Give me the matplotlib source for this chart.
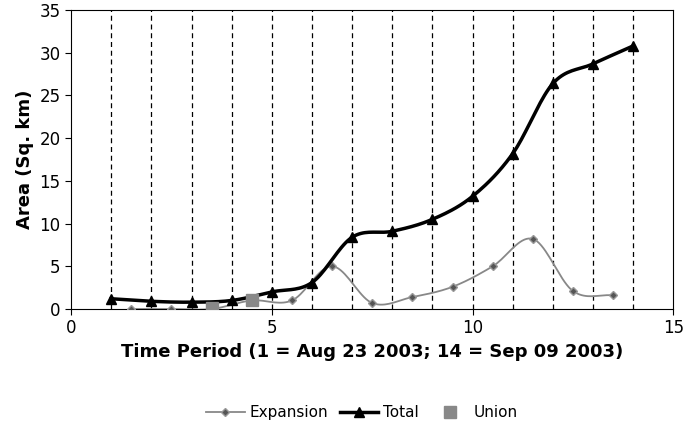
import numpy as np
import matplotlib
matplotlib.use("Agg")
import matplotlib.pyplot as plt
from matplotlib.lines import Line2D

total_x = [1,2,3,4,5,6,7,8,9,10,11,12,13,14]
total_y = [1.2,0.9,0.8,1.0,2.0,3.1,8.4,9.1,10.5,13.2,18.2,26.4,28.7,30.8]
exp_x = [1.5,2.5,3.5,4.5,5.5,6.5,7.5,8.5,9.5,10.5,11.5,12.5,13.5]
exp_y = [0,0,0,1.0,1.0,5.0,0.7,1.4,2.6,5.0,8.2,2.1,1.6]
union_x = [3.5,4.5]
union_y = [0.1,1.0]

def smooth(x, y, n=20):
    x = np.asarray(x, float); y = np.asarray(y, float)
    P = np.column_stack([x, y])
    P = np.vstack([2*P[0]-P[1], P, 2*P[-1]-P[-2]])
    out = []
    for i in range(1, len(P)-2):
        p0,p1,p2,p3 = P[i-1],P[i],P[i+1],P[i+2]
        t = np.linspace(0,1,n)[:,None]
        c = 0.5*((2*p1)+(-p0+p2)*t+(2*p0-5*p1+4*p2-p3)*t**2+(-p0+3*p1-3*p2+p3)*t**3)
        out.append(c)
    out = np.vstack(out)
    return out[:,0], out[:,1]

fig = plt.figure(figsize=(6.83,4.34), dpi=100)
ax = fig.add_axes([0.104, 0.288, 0.882, 0.689])
for v in total_x:
    ax.axvline(v, color='black', ls=(0,(4,3)), lw=0.9, zorder=1)
sx, sy = smooth(exp_x, exp_y)
ax.plot(sx, sy, color='#888888', lw=1.3, zorder=2)
ax.plot(exp_x, exp_y, ls='none', marker='D', ms=4.5, mfc='#555555', mec='#999999', zorder=3)
sx, sy = smooth(total_x, total_y)
ax.plot(sx, sy, color='black', lw=2.5, zorder=4)
ax.plot(total_x, total_y, ls='none', marker='^', ms=7, color='black', zorder=5)
ax.plot(union_x, union_y, ls='none', marker='s', ms=8, color='#888888', zorder=6)
ax.set_xlim(0,15); ax.set_ylim(0,35)
ax.set_xticks([0,5,10,15]); ax.set_yticks(range(0,36,5))
ax.tick_params(labelsize=12, length=4)
ax.set_ylabel('Area (Sq. km)', fontsize=13, fontweight='bold')
ax.set_xlabel('Time Period (1 = Aug 23 2003; 14 = Sep 09 2003)', fontsize=13, fontweight='bold', labelpad=4)
handles = [Line2D([],[],color='#888888',lw=1.3,marker='D',ms=4.5,mfc='#555555',mec='#999999'),
           Line2D([],[],color='black',lw=2.5,marker='^',ms=7),
           Line2D([],[],ls='none',marker='s',ms=8,color='#888888')]
fig.legend(handles, ['Expansion','Total','Union'], loc='lower center', ncol=3, frameon=False,
           fontsize=11, bbox_to_anchor=(0.53,0.0), handlelength=2.5, columnspacing=0.8, handletextpad=0.3)
fig.savefig('out.png', dpi=100)
